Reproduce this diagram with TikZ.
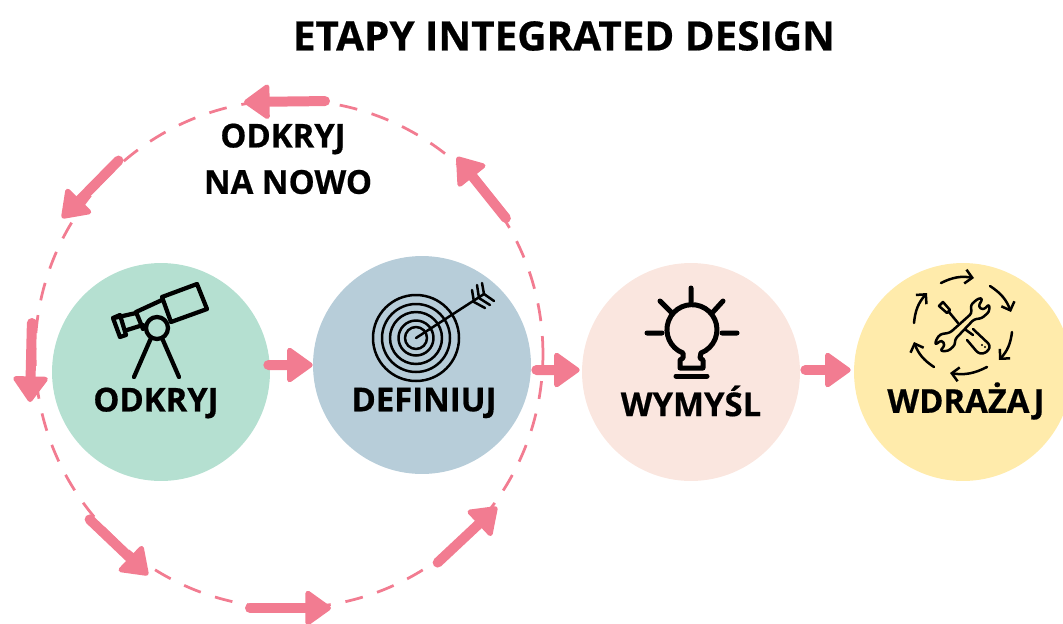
\documentclass[tikz,border=0pt]{standalone}
\usepackage{fontspec}
\setmainfont[BoldFeatures={FakeBold=0.5}]{Open Sans}
\usetikzlibrary{arrows.meta}
\definecolor{arrowpink}{HTML}{F27C91}
\definecolor{odkryjgreen}{HTML}{B5E0D1}
\definecolor{definiujblue}{HTML}{B7CDD9}
\definecolor{wymyslpeach}{HTML}{FAE6DF}
\definecolor{wdrazajyellow}{HTML}{FFEBAB}
\tikzset{
  etap/.style={circle,minimum size=4.36cm,inner sep=0pt},
  etaplabel/.style={font=\fontsize{18.7}{23}\selectfont\bfseries},
  pinkarrow/.style={draw=arrowpink,line width=0.2cm,line cap=round,shorten <=0.1cm,-{Triangle[length=0.55cm,width=0.76cm,round,line width=0.1cm]}},
  iconline/.style={draw=black,line width=0.085cm,line cap=round,line join=round},
  bulbline/.style={draw=black,line width=0.1cm,line cap=round,line join=round},
  thinline/.style={draw=black,line width=0.05cm,line cap=round,line join=round},
  cyclearrow/.style={draw=black,line width=0.05cm,line cap=round,-{Straight Barb[length=0.14cm,width=0.28cm]}}
}
\begin{document}
\begin{tikzpicture}[x=0.02cm,y=-0.02cm]
\useasboundingbox (0,0) rectangle (1063,623);
% title
\node (title) at (564,36) {\fontsize{23}{28}\selectfont\bfseries ETAPY INTEGRATED DESIGN};
% big ring
\node (ring) [circle,draw=arrowpink,line width=0.055cm,dash pattern=on 0.36cm off 0.3cm,minimum size=10.16cm,inner sep=0pt] at (289,354) {};
% steps
\node (odkryj) [etap,fill=odkryjgreen] at (161,372) {};
\node (definiuj) [etap,fill=definiujblue] at (422,365) {};
\node (wymysl) [etap,fill=wymyslpeach] at (691,372) {};
\node (wdrazaj) [etap,fill=wdrazajyellow] at (963,372) {};
\node (odkryjtext) [etaplabel] at (156,403) {ODKRYJ};
\node (definiujtext) [etaplabel] at (424,403) {DEFINIUJ};
\node (wymysltext) [etaplabel] at (691,401) {WYMYŚL};
\node (wdrazajtext) [etaplabel] at (966,401) {WDRAŻAJ};
\node (ringtext) [etaplabel] at (283,139) {ODKRYJ};
\node (ringtexttwo) [etaplabel] at (288,182) {NA NOWO};
% arrows between steps
\draw[pinkarrow] ([xshift=-0.14cm,yshift=0.14cm]odkryj.east) -- (definiuj.west);
\draw[pinkarrow] ([yshift=-0.1cm]definiuj.east) -- ([xshift=-0.04cm,yshift=0.04cm]wymysl.west);
\draw[pinkarrow] ([yshift=0.04cm]wymysl.east) -- ([xshift=-0.06cm,yshift=0.04cm]wdrazaj.west);
% arrows on the ring
\coordinate (r1a) at (330,101); \coordinate (r1b) at (244,102);
\coordinate (r2a) at (122,157); \coordinate (r2b) at (62,218);
\coordinate (r3a) at (32,318);  \coordinate (r3b) at (30,402);
\coordinate (r4a) at (86,516);  \coordinate (r4b) at (148,575);
\coordinate (r5a) at (245,608); \coordinate (r5b) at (331,608);
\coordinate (r6a) at (434,566); \coordinate (r6b) at (497,507);
\coordinate (r7a) at (509,222); \coordinate (r7b) at (457,157);
\draw[pinkarrow] (r1a) -- (r1b);
\draw[pinkarrow] (r2a) -- (r2b);
\draw[pinkarrow] (r3a) -- (r3b);
\draw[pinkarrow] (r4a) -- (r4b);
\draw[pinkarrow] (r5a) -- (r5b);
\draw[pinkarrow] (r6a) -- (r6b);
\draw[pinkarrow] (r7a) -- (r7b);
% telescope
\draw[iconline] (162,297) -- (197,284) -- (207,309) -- (171,322) -- cycle;
\draw[iconline] (136,312) -- (162,300) (136,312) -- (143,329);
\draw[iconline] (114,318) -- (136,313) (127,330) -- (143,325);
\draw[iconline] (113,318) -- (120,315) -- (126,335) -- (120,337) -- cycle;
\draw[iconline] (157,328) circle (11);
\draw[iconline] (151,338) -- (134,377) (162,338) -- (179,377);
% target
\draw[thinline] (416,338) circle (43) (416,338) circle (34) (416,338) circle (26) (416,338) circle (17.5) (416,338) circle (11);
\draw[thinline] (416,338) -- (484,294);
\draw[thinline] (472,290) -- (474,302) (477,285) -- (479,298) (482,283) -- (484,294);
\draw[thinline] (474,302) -- (485,308) (479,298) -- (490,305) (484,294) -- (494,301);
% bulb
\draw[bulbline] (683,353) arc[start angle=111,end angle=429,radius=25] -- (700,358) -- (703,360) -- (703,368) -- (680,368) -- (680,360) -- (683,358) -- cycle;
\draw[bulbline] (676,376) -- (707,376);
\draw[bulbline] (691,288) -- (691,302) (660,301) -- (671,312) (723,301) -- (713,312) (647,333) -- (662,333) (722,333) -- (737,333);
% tools
\draw[cyclearrow] (941,283) to[bend left=18] (974,278);
\draw[cyclearrow] (990,286) to[bend left=18] (1011,312);
\draw[cyclearrow] (1012,332) to[bend left=18] (999,360);
\draw[cyclearrow] (987,367) to[bend left=18] (950,373);
\draw[cyclearrow] (934,367) to[bend left=18] (914,342);
\draw[cyclearrow] (914,323) to[bend left=18] (927,293);
\draw[thinline,rounded corners=1.5pt] (950,332.7) -- (971.7,313.3) -- (970.7,305) -- (978.3,298.3) -- (982.7,298.3) -- (978.3,306.7) -- (983.3,310) -- (989.3,304) -- (989.3,311.7) -- (981.7,318.3) -- (974,319.3) -- (955,339.3) -- (955,345) -- (948.3,351) -- (940,351) -- (945,345) -- (941.7,340) -- (935,345) -- (936,340) -- (940,334.3) -- cycle;
\draw[thinline] (943,302) -- (950,310) -- (947,313) -- (939,306) -- cycle;
\draw[thinline] (949,312) -- (958,323) (966,330) -- (973,335);
\draw[thinline,rounded corners=1.5pt] (973,329) -- (990,345) -- (989,350) -- (983,354) -- (978,353) -- (967,340);
\fill (982,345) circle (1.2) (985,347) circle (1.2);
\end{tikzpicture}
\end{document}
